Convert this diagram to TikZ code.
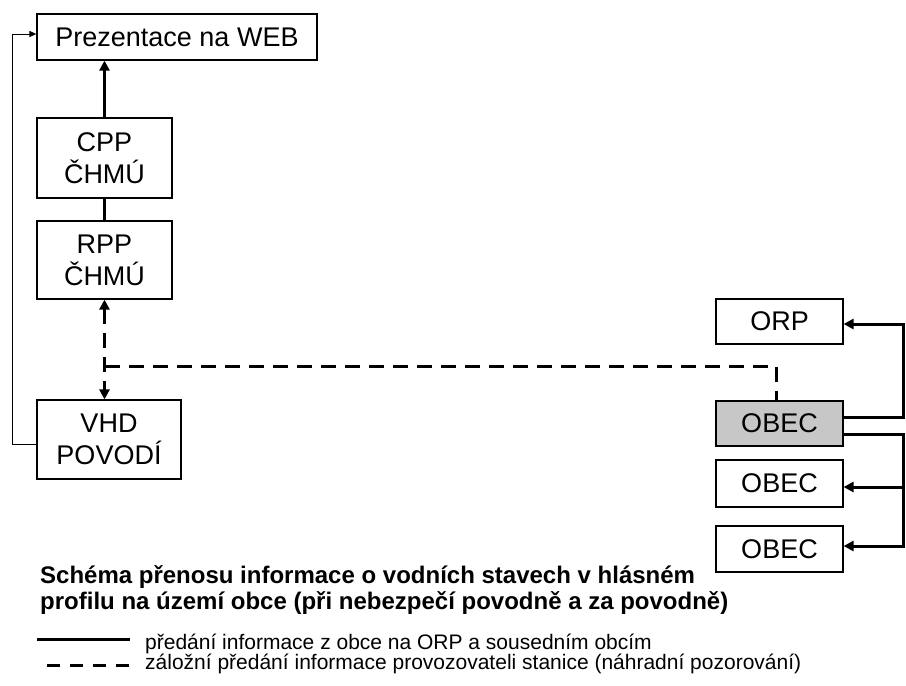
\documentclass[tikz,border=0pt]{standalone}
\usepackage{fontspec}
\setmainfont{Liberation Sans}
\usetikzlibrary{arrows.meta}

\begin{document}
\begin{tikzpicture}[x=1pt, y=-1pt]
	\tikzstyle{boxStyle}=[draw, line width=1.2pt, inner sep=0pt, align=center, font=\fontsize{27}{32}\selectfont]
	\tikzstyle{flowStyle}=[line width=3pt, -{Triangle[length=10pt, width=10pt]}]
	\tikzstyle{dashStyle}=[line width=3pt, dash pattern=on 15pt off 9pt]
	\tikzstyle{thinStyle}=[line width=1pt, -{Triangle[length=7pt, width=6pt]}]
	\tikzstyle{legendStyle}=[anchor=base west, inner sep=0pt, font=\fontsize{21}{24}\selectfont]
	\useasboundingbox (0,0) rectangle (906,686);
	% left column
	\node[boxStyle, minimum width=280pt, minimum height=46pt] (pres) at (177,37) {Prezentace na WEB};
	\node[boxStyle, minimum width=135pt, minimum height=80pt] (cpp) at (104.5,158) {CPP\\ČHMÚ};
	\node[boxStyle, minimum width=135pt, minimum height=78pt] (rpp) at (104.5,260) {RPP\\ČHMÚ};
	\node[boxStyle, minimum width=144pt, minimum height=79pt] (vhd) at (109,439.5) {VHD\\POVODÍ};
	% right column
	\node[boxStyle, minimum width=127pt, minimum height=45pt] (orp) at (779.5,321.5) {ORP};
	\node[boxStyle, minimum width=127pt, minimum height=45pt, fill=black!22] (obec1) at (779.5,423.5) {OBEC};
	\node[boxStyle, minimum width=127pt, minimum height=47pt] (obec2) at (779.5,483.5) {OBEC};
	\node[boxStyle, minimum width=127pt, minimum height=46pt] (obec3) at (779.5,549) {OBEC};
	\coordinate (leftRail) at (12,34);
	\coordinate (junction) at (105,366);
	\coordinate (dashTurn) at (776,366);
	\coordinate (railTop) at (903,324);
	\coordinate (railMid) at (903,487);
	\coordinate (railLow) at (903,546);
	% connectors
	\draw[flowStyle] (cpp.north) -- (cpp.north |- pres.south);
	\draw[line width=3pt] (cpp.south) -- (rpp.north);
	\draw[thinStyle] ([yshift=-4.5pt]vhd.west) -| (leftRail) -- ([yshift=3pt]pres.west);
	\draw[dashStyle, {Triangle[length=10pt, width=10pt]}-{Triangle[length=10pt, width=10pt]}] (rpp.south) -- (rpp.south |- vhd.north);
	\draw[dashStyle] (junction) -- (dashTurn) -- (dashTurn |- obec1.north);
	\draw[flowStyle] ([yshift=6.5pt]obec1.east) -| (railTop) -- ([yshift=-2.5pt]orp.east);
	\draw[flowStyle] ([yshift=-10.5pt]obec1.east) -| (railLow) -- ([yshift=3pt]obec3.east);
	\draw[flowStyle] (railMid) -- ([yshift=-3.5pt]obec2.east);
	% caption and legend
	\node[anchor=base west, inner sep=0pt, align=left, font=\fontsize{24}{26}\bfseries] (caption) at (40,609)
		{Schéma přenosu informace o vodních stavech v hlásném\\profilu na území obce (při nebezpečí povodně a za povodně)};
	\coordinate (solidA) at (37,639);
	\coordinate (solidB) at (130,639);
	\coordinate (dashA) at (47,665);
	\coordinate (dashB) at (130,665);
	\draw[line width=3pt] (solidA) -- (solidB);
	\draw[dashStyle, dash pattern=on 13pt off 10pt] (dashA) -- (dashB);
	\node[legendStyle] (legSolid) at (145,649) {předání informace z obce na ORP a sousedním obcím};
	\node[legendStyle] (legDash) at (145,669) {záložní předání informace provozovateli stanice (náhradní pozorování)};
\end{tikzpicture}
\end{document}
